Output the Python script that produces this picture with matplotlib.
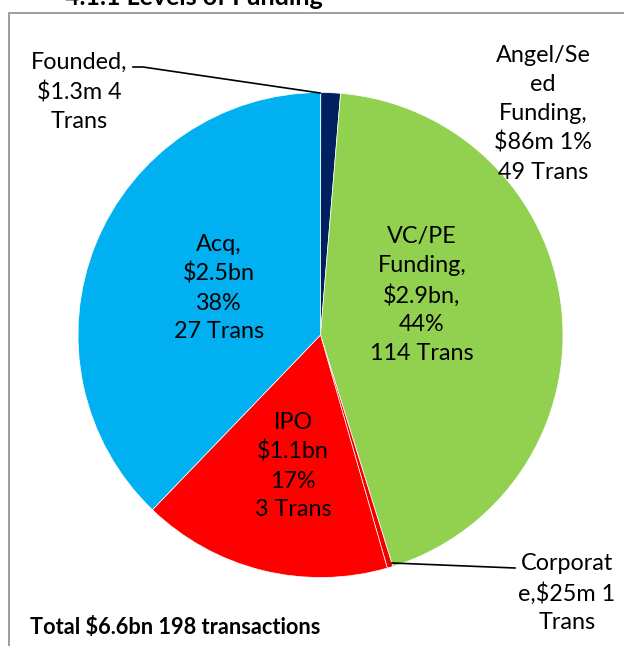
import matplotlib
matplotlib.use("Agg")
import matplotlib.pyplot as plt
from matplotlib.patches import Rectangle
from matplotlib.lines import Line2D

# Data ($m), clockwise from 12 o'clock
categories = ["Founded", "Angel/Seed Funding", "VC/PE Funding", "Corporate", "IPO", "Acq"]
values_m = [1.3, 86, 2900, 25, 1100, 2500]
label_texts = [
    "Founded,\n$1.3m 4\nTrans",
    "Angel/Se\ned\nFunding,\n$86m 1%\n49 Trans",
    "VC/PE\nFunding,\n$2.9bn,\n44%\n114 Trans",
    "Corporat\ne,$25m 1\nTrans",
    "IPO\n$1.1bn\n17%\n3 Trans",
    "Acq,\n$2.5bn\n38%\n27 Trans",
]
colors = ["#FFC000", "#002060", "#92D050", "#F20000", "#FF0000", "#00B0F0"]
title = "4.1.1 Levels of Funding"
total_text = "Total $6.6bn 198 transactions"

W, H = 624, 646
fig = plt.figure(figsize=(W / 100, H / 100), dpi=100)
plt.rcParams["font.family"] = ["Lato", "DejaVu Sans"]

# frame
fig.patches.append(Rectangle((9 / W, -0.1), 1.2, 1 - 13 / H + 0.1, transform=fig.transFigure,
                             fill=False, edgecolor="#8c8c8c", linewidth=1.2))

cx, cy, r = 320.5, 335, 242.5
ax = fig.add_axes([(cx - r) / W, (H - cy - r) / H, 2 * r / W, 2 * r / H])
ax.pie(values_m, colors=colors, startangle=90, counterclock=False, radius=1,
       wedgeprops=dict(edgecolor="white", linewidth=0.5))
ax.set_xlim(-1, 1)
ax.set_ylim(-1, 1)
ax.set_aspect("auto")
ax.axis("off")

def px(x, y):
    return ((x - cx) / r, (cy - y) / r)

pos = {
    "Founded": px(79, 92),
    "Angel/Seed Funding": px(543, 114),
    "VC/PE Funding": px(422, 295),
    "Corporate": px(567, 593),
    "IPO": px(293, 466),
    "Acq": px(219, 288),
}
for cat, txt in zip(categories, label_texts):
    x, y = pos[cat]
    ax.text(x, y, txt, ha="center", va="center", fontsize=16.8, linespacing=1.45,
            color="black", clip_on=False)

# leader lines
fx = [px(133, 67)[0], px(143, 67)[0], px(320, 93)[0]]
fy = [px(133, 67)[1], px(143, 67)[1], px(320, 93)[1]]
ax.add_line(Line2D(fx, fy, color="black", linewidth=1.2, clip_on=False))
corp = [px(392, 563), px(515, 568)]
ax.add_line(Line2D([p[0] for p in corp], [p[1] for p in corp], color="black",
                   linewidth=1.2, clip_on=False))

fig.text(30 / W, 1 - 628 / H, total_text, ha="left", va="center", fontsize=15.7,
         fontweight="bold")
fig.text(65 / W, 1 - 5 / H, title, ha="left", va="baseline", fontsize=18,
         fontweight="bold")

fig.savefig("out.png", dpi=100)
